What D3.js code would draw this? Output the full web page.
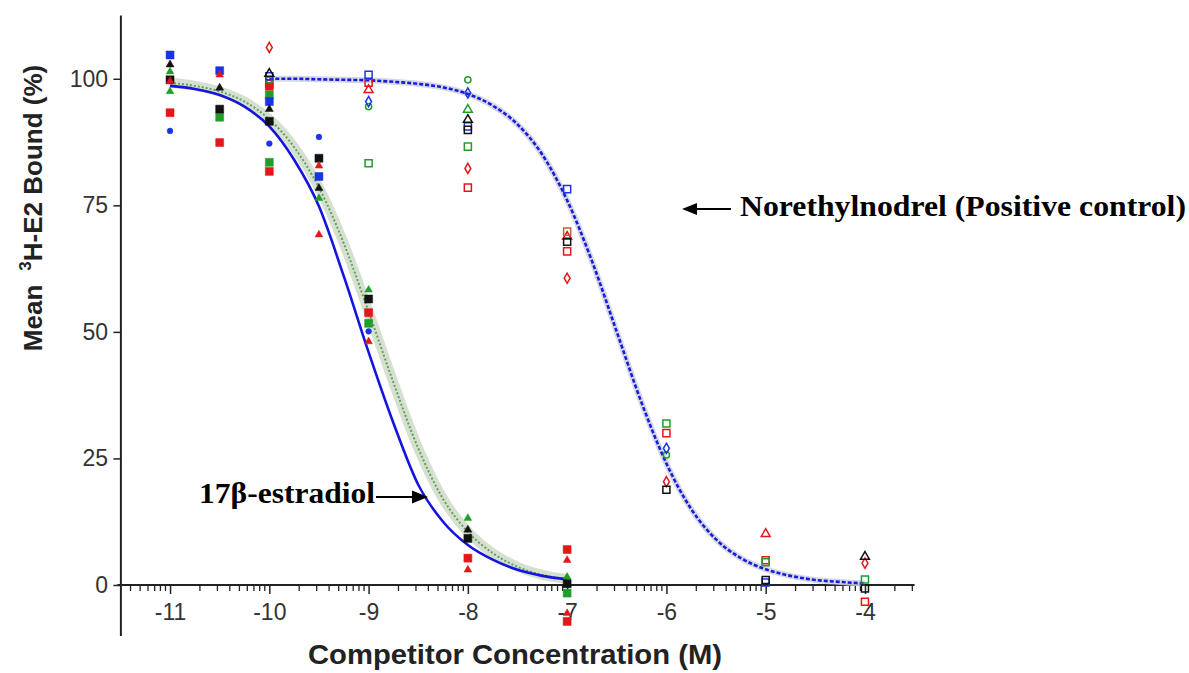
<!DOCTYPE html>
<html>
<head>
<meta charset="utf-8">
<script src="https://cdn.jsdelivr.net/npm/d3@7"></script>
<style>
  body { margin: 0; background: #fff; }
  svg { display: block; }
</style>
</head>
<body>
<div id="chart"></div>
<script>
// fitted curves (log M -> % bound)
const e2FitConc = [-11, -10.75, -10.5, -10.25, -10, -9.75, -9.5, -9.25, -9, -8.75, -8.5, -8.25, -8, -7.75, -7.5, -7.25, -7];
const e2FitBlue = [98.6, 98.0, 96.8, 94.5, 90.6, 84, 74.8, 61, 46, 32, 19.8, 12.5, 7.9, 5.0, 3.0, 1.8, 1.1];
const e2FitGreen = [99.2, 98.6, 97.5, 95.5, 92, 86.5, 78.5, 67.5, 54, 40, 27, 17, 10.5, 6.3, 3.6, 2.0, 1.2];

const neFitConc = [-10, -9.75, -9.5, -9.25, -9, -8.75, -8.5, -8.25, -8, -7.75, -7.5, -7.25, -7, -6.75, -6.5, -6.25, -6, -5.75, -5.5, -5.25, -5, -4.75, -4.5, -4.25, -4];
const neFit = [100, 100, 99.9, 99.8, 99.7, 99.4, 99.0, 98.3, 97, 94.7, 91, 85, 76, 64, 50, 36, 24, 15, 9, 5.3, 3.1, 1.8, 1.0, 0.6, 0.3];

// 17b-estradiol replicates (filled markers) [log M, %]
const e2RedSq = [[-11, 93.3], [-10.5, 87.4], [-10, 98.5], [-10, 81.7], [-9, 53.8], [-8, 5.3], [-7, 7.0], [-7, -7.2]];
const e2RedSmall = [[-11, 99.5], [-10.5, 100.8], [-9.5, 82.8], [-9.5, 69.2], [-9, 48.1], [-8, 3.0], [-7, 4.9], [-7, -5.6]];
const e2GreenSq = [[-10.5, 92.4], [-10, 96.8], [-10, 83.5], [-9, 51.7], [-7, -1.6]];
const e2GreenSmall = [[-11, 101.4], [-11, 97.5], [-9.5, 76.4], [-9, 58.3], [-8, 13.2], [-7, 1.6]];
const e2BlueSq = [[-11, 104.7], [-10.5, 101.6], [-10, 95.5], [-9.5, 80.7]];
const e2BlueSmall = [[-11, 89.7], [-10, 87.2], [-9.5, 88.5], [-9, 50.1]];
const e2BlackSq = [[-11, 99.8], [-10.5, 94], [-10, 91.6], [-9.5, 84.3], [-9, 56.5], [-8, 9.2], [-7, 0.3]];
const e2BlackSmall = [[-11, 102.8], [-10.5, 98.2], [-10, 94], [-9.5, 78.4], [-8, 10.9], [-7, 0]];

// norethylnodrel replicates (open markers)
const neRedSq = [[-10, 99], [-9, 99.2], [-8, 78.5], [-7, 65.9], [-6, 30], [-5, 4.9], [-4, -3.3]];
const neRedDia = [[-10, 106.2], [-8, 82.3], [-7, 60.6], [-6, 20.4], [-4, 4.3]];
const neRedTri = [[-9, 97.8], [-7, 68.8], [-5, 10.1]];
const neGreenSq = [[-9, 83.3], [-8, 86.6], [-6, 31.9], [-5, 4.5], [-4, 1.1]];
const neGreenCirc = [[-10, 99.8], [-9, 94.5], [-8, 99.8], [-6, 25.7]];
const neGreenTri = [[-8, 93.9]];
const neBlueSq = [[-10, 100.5], [-9, 100.8], [-8, 90.6], [-7, 78.2], [-5, 0.5]];
const neBlueDia = [[-9, 95.5], [-8, 97.2], [-6, 27.0]];
const neBlackSq = [[-8, 89.9], [-7, 67.8], [-6, 18.8], [-5, 1.0], [-4, -0.7]];
const neBlackTri = [[-10, 101], [-8, 91.9], [-4, 5.6]];
const neBrownSq = [[-7, 69.8]];

const xTicks = [-11, -10, -9, -8, -7, -6, -5, -4];
const yTicks = [0, 25, 50, 75, 100];

var width = 1189;
var height = 673;

let svg = d3.select('#chart')
    .append('svg')
    .attr('width', width)
    .attr('height', height)

const x = d3.scaleLinear()
    .domain([-11.5, -3.5])
    .range([120.4, 914.6])

const y = d3.scaleLinear()
    .domain([-10, 112.6])
    .range([635.6, 15])

// minor log ticks
let minor = [];
for (let d = -12; d <= -4; d++) {
    for (let k = 2; k <= 9; k++) {
        let v = d + Math.log10(k);
        if (v > -11.5 && v < -3.5) minor.push(v);
    }
}

const tickFont = "'Liberation Sans', Arial, sans-serif";

// x axis at y = 0
let xAxis = svg.append('g')
    .attr('transform', 'translate(0,' + y(0) + ')')
    .call(d3.axisBottom(x).tickValues(xTicks).tickSize(9).tickSizeOuter(0).tickFormat(d => String(d)))
xAxis.select('.domain').attr('stroke', '#222').attr('stroke-width', 2)
    .attr('d', 'M' + (x.range()[0] - 3) + ',0H' + x.range()[1])
xAxis.selectAll('.tick line').attr('stroke', '#222').attr('stroke-width', 1.5)
xAxis.selectAll('.tick text')
    .attr('font-family', tickFont).attr('font-size', 23).attr('fill', '#333').attr('dy', '1.0em')

xAxis.selectAll('.minor')
    .data(minor)
    .enter()
    .append('line')
    .attr('x1', d => x(d)).attr('x2', d => x(d))
    .attr('y1', 0).attr('y2', 6)
    .attr('stroke', '#222').attr('stroke-width', 1.3)

// y axis
let yAxis = svg.append('g')
    .attr('transform', 'translate(' + x(-11.5) + ',0)')
    .call(d3.axisLeft(y).tickValues(yTicks).tickSize(7).tickSizeOuter(0))
yAxis.select('.domain').attr('stroke', '#222').attr('stroke-width', 2)
yAxis.selectAll('.tick line').attr('stroke', '#222').attr('stroke-width', 1.5)
yAxis.selectAll('.tick text')
    .attr('font-family', tickFont).attr('font-size', 23).attr('fill', '#333').attr('dx', '-0.1em')

// axis titles
svg.append('text')
    .attr('x', 308).attr('y', 664)
    .attr('textLength', 414).attr('lengthAdjust', 'spacingAndGlyphs')
    .attr('font-family', tickFont).attr('font-weight', 'bold').attr('font-size', 28).attr('fill', '#222')
    .text('Competitor Concentration (M)')

let yTitle = svg.append('text')
    .attr('transform', 'translate(42,208) rotate(-90)')
    .attr('text-anchor', 'middle')
    .attr('font-family', tickFont).attr('font-weight', 'bold').attr('font-size', 26).attr('fill', '#222')
yTitle.append('tspan').text('Mean')
yTitle.append('tspan').attr('dx', 14).attr('dy', -11).attr('font-size', 17).text('3')
yTitle.append('tspan').attr('dy', 11).text('H-E2 Bound (%)')

// curves
const line = d3.line()
    .x(d => x(d[0]))
    .y(d => y(d[1]))
    .curve(d3.curveMonotoneX)

const e2Blue = e2FitConc.map((c, i) => [c, e2FitBlue[i]]);
const e2Green = e2FitConc.map((c, i) => [c, e2FitGreen[i]]);
const ne = neFitConc.map((c, i) => [c, neFit[i]]);

svg.append('path').attr('d', line(e2Green))
    .attr('fill', 'none').attr('stroke', '#cfdac8').attr('stroke-width', 10).attr('opacity', 0.85)
svg.append('path').attr('d', line(e2Green))
    .attr('fill', 'none').attr('stroke', '#5fa35a').attr('stroke-width', 2).attr('stroke-dasharray', '2,2')
svg.append('path').attr('d', line(e2Blue))
    .attr('fill', 'none').attr('stroke', '#1414e0').attr('stroke-width', 2.6)

svg.append('path').attr('d', line(ne))
    .attr('fill', 'none').attr('stroke', '#cdd2e4').attr('stroke-width', 6).attr('opacity', 0.85)
svg.append('path').attr('d', line(ne))
    .attr('fill', 'none').attr('stroke', '#1a1ad8').attr('stroke-width', 2.6).attr('stroke-dasharray', '4,2')

// markers
const red = '#e5161a', green = '#1f9e2a', blue = '#1a33e6', black = '#111', brown = '#c0603a';
const groups = [
    { data: e2RedSq, color: red, shape: d3.symbolSquare, size: 64, open: false },
    { data: e2GreenSq, color: green, shape: d3.symbolSquare, size: 64, open: false },
    { data: e2BlueSq, color: blue, shape: d3.symbolSquare, size: 64, open: false },
    { data: e2BlackSq, color: black, shape: d3.symbolSquare, size: 64, open: false },
    { data: e2RedSmall, color: red, shape: d3.symbolTriangle, size: 26, open: false },
    { data: e2GreenSmall, color: green, shape: d3.symbolTriangle, size: 26, open: false },
    { data: e2BlueSmall, color: blue, shape: d3.symbolCircle, size: 26, open: false },
    { data: e2BlackSmall, color: black, shape: d3.symbolTriangle, size: 28, open: false },
    { data: neRedSq, color: red, shape: d3.symbolSquare, size: 50, open: true },
    { data: neRedDia, color: red, shape: d3.symbolDiamond, size: 30, open: true },
    { data: neRedTri, color: red, shape: d3.symbolTriangle, size: 34, open: true },
    { data: neGreenSq, color: green, shape: d3.symbolSquare, size: 50, open: true },
    { data: neGreenCirc, color: green, shape: d3.symbolCircle, size: 30, open: true },
    { data: neGreenTri, color: green, shape: d3.symbolTriangle, size: 34, open: true },
    { data: neBlueSq, color: blue, shape: d3.symbolSquare, size: 50, open: true },
    { data: neBlueDia, color: blue, shape: d3.symbolDiamond, size: 30, open: true },
    { data: neBlackSq, color: black, shape: d3.symbolSquare, size: 50, open: true },
    { data: neBlackTri, color: black, shape: d3.symbolTriangle, size: 34, open: true },
    { data: neBrownSq, color: brown, shape: d3.symbolSquare, size: 50, open: true }
];

groups.forEach(function (g) {
    svg.append('g')
        .selectAll('path')
        .data(g.data)
        .enter()
        .append('path')
        .attr('transform', d => 'translate(' + x(d[0]) + ',' + y(d[1]) + ')')
        .attr('d', d3.symbol().type(g.shape).size(g.size))
        .attr('fill', g.open ? 'none' : g.color)
        .attr('stroke', g.color)
        .attr('stroke-width', g.open ? 1.5 : 0.5)
})

// annotations
const serif = "'Liberation Serif', 'Times New Roman', serif";

svg.append('text')
    .attr('x', 740).attr('y', 216)
    .attr('textLength', 446).attr('lengthAdjust', 'spacingAndGlyphs')
    .attr('font-family', serif).attr('font-weight', 'bold').attr('font-size', 30)
    .text('Norethylnodrel (Positive control)')
svg.append('line')
    .attr('x1', 731).attr('x2', 694).attr('y1', 209).attr('y2', 209)
    .attr('stroke', '#000').attr('stroke-width', 2.2)
svg.append('path')
    .attr('d', 'M682,209L697,203L697,215Z')
    .attr('fill', '#000')

svg.append('text')
    .attr('x', 199).attr('y', 503)
    .attr('textLength', 176).attr('lengthAdjust', 'spacingAndGlyphs')
    .attr('font-family', serif).attr('font-weight', 'bold').attr('font-size', 30)
    .text('17β-estradiol')
svg.append('line')
    .attr('x1', 376).attr('x2', 415).attr('y1', 497).attr('y2', 497)
    .attr('stroke', '#000').attr('stroke-width', 2.2)
svg.append('path')
    .attr('d', 'M428,497L412,490.5L412,503.5Z')
    .attr('fill', '#000')
</script>
</body>
</html>
